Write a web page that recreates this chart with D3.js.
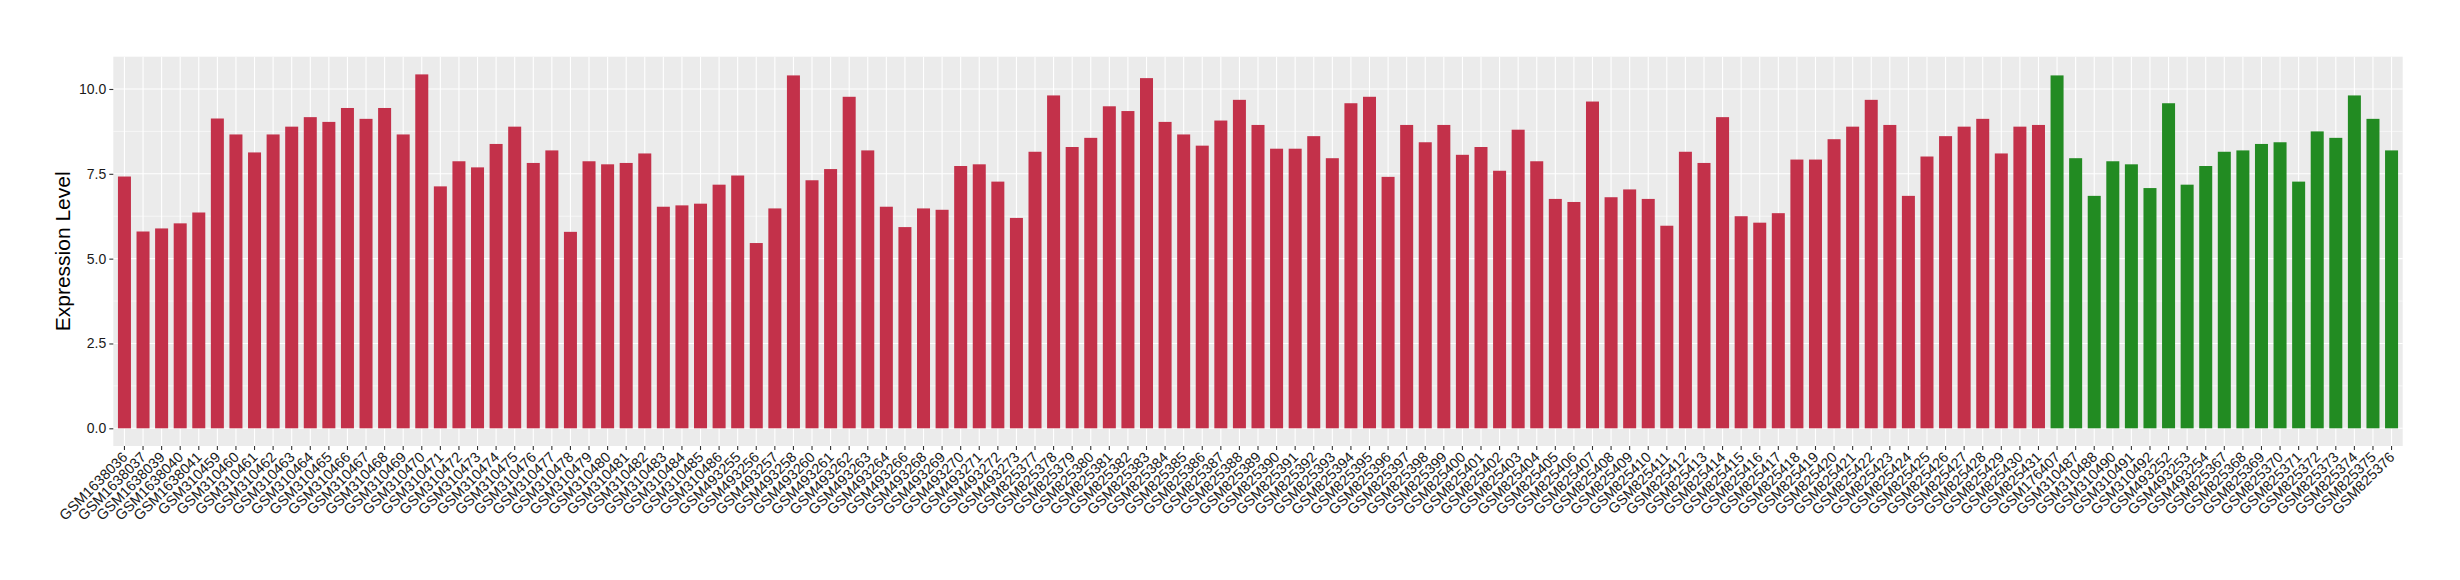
<!DOCTYPE html>
<html><head><meta charset="utf-8">
<script src="https://cdn.jsdelivr.net/npm/d3@7"></script>
<style>body{margin:0;background:#fff;} svg{display:block;}</style>
</head><body>
<svg id="chart" width="2460" height="580"></svg>
<script>
const samples = ["GSM1638036","GSM1638037","GSM1638039","GSM1638040","GSM1638041",
"GSM310459","GSM310460","GSM310461","GSM310462","GSM310463","GSM310464","GSM310465","GSM310466","GSM310467","GSM310468","GSM310469","GSM310470","GSM310471","GSM310472","GSM310473","GSM310474","GSM310475","GSM310476","GSM310477","GSM310478","GSM310479","GSM310480","GSM310481","GSM310482","GSM310483","GSM310484","GSM310485","GSM310486",
"GSM493255","GSM493256","GSM493257","GSM493258","GSM493260","GSM493261","GSM493262","GSM493263","GSM493264","GSM493266","GSM493268","GSM493269","GSM493270","GSM493271","GSM493272","GSM493273",
"GSM825377","GSM825378","GSM825379","GSM825380","GSM825381","GSM825382","GSM825383","GSM825384","GSM825385","GSM825386","GSM825387","GSM825388","GSM825389","GSM825390","GSM825391","GSM825392","GSM825393","GSM825394","GSM825395","GSM825396","GSM825397","GSM825398","GSM825399","GSM825400","GSM825401","GSM825402","GSM825403","GSM825404","GSM825405","GSM825406","GSM825407","GSM825408","GSM825409","GSM825410","GSM825411","GSM825412","GSM825413","GSM825414","GSM825415","GSM825416","GSM825417","GSM825418","GSM825419","GSM825420","GSM825421","GSM825422","GSM825423","GSM825424","GSM825425","GSM825426","GSM825427","GSM825428","GSM825429","GSM825430","GSM825431",
"GSM176407","GSM310487","GSM310488","GSM310490","GSM310491","GSM310492","GSM493252","GSM493253","GSM493254","GSM825367","GSM825368","GSM825369","GSM825370","GSM825371","GSM825372","GSM825373","GSM825374","GSM825375","GSM825376"];

const expression = [7.42,5.80,5.89,6.04,6.36,
9.13,8.66,8.13,8.66,8.89,9.17,9.03,9.44,9.12,9.44,8.66,10.43,7.13,7.87,7.69,8.38,8.89,7.82,8.19,5.79,7.87,7.78,7.82,8.10,6.53,6.57,6.62,7.18,
7.45,5.46,6.48,10.40,7.31,7.64,9.77,8.19,6.53,5.93,6.48,6.44,7.73,7.78,7.27,6.20,
8.15,9.81,8.29,8.56,9.49,9.35,10.32,9.03,8.66,8.33,9.07,9.68,8.94,8.24,8.24,8.61,7.96,9.58,9.77,7.41,8.94,8.43,8.94,8.06,8.29,7.59,8.80,7.87,6.76,6.67,9.63,6.81,7.04,6.76,5.97,8.15,7.82,9.17,6.25,6.06,6.34,7.92,7.92,8.52,8.89,9.68,8.94,6.85,8.01,8.61,8.89,9.12,8.10,8.89,8.94,
10.40,7.96,6.85,7.87,7.78,7.08,9.58,7.18,7.73,8.15,8.19,8.38,8.43,7.27,8.75,8.56,9.81,9.12,8.19];

const groups = samples.map((s,i) => i < 104 ? "A" : "B");
const groupColors = {A: "#C3314A", B: "#228B22"};
const yTicks = [0, 2.5, 5, 7.5, 10];
const yMinor = [1.25, 3.75, 6.25, 8.75];
const yTitle = "Expression Level";

const svg = d3.select("#chart");
const L = 113.3, R = 2402.7, T = 56.7, B = 446;

const x = d3.scaleBand().domain(samples).range([L, R]).paddingInner(0.3).paddingOuter(0.25);
const ymax = d3.max(expression);
const y = d3.scaleLinear().domain([-0.05*ymax, ymax*1.05]).range([B, T]);

svg.append("rect").attr("x", L).attr("y", T).attr("width", R-L).attr("height", B-T).attr("fill", "#EBEBEB");

const grid = svg.append("g");
grid.selectAll(".minor").data(yMinor).join("line")
  .attr("x1", L).attr("x2", R).attr("y1", d=>y(d)).attr("y2", d=>y(d))
  .attr("stroke", "#fff").attr("stroke-width", 0.55);
grid.selectAll(".major").data(yTicks).join("line")
  .attr("x1", L).attr("x2", R).attr("y1", d=>y(d)).attr("y2", d=>y(d))
  .attr("stroke", "#fff").attr("stroke-width", 1.1);
grid.selectAll(".vx").data(samples).join("line")
  .attr("x1", d=>x(d)+x.bandwidth()/2).attr("x2", d=>x(d)+x.bandwidth()/2).attr("y1", T).attr("y2", B)
  .attr("stroke", "#fff").attr("stroke-width", 1.1);

svg.append("g").selectAll("rect").data(samples).join("rect")
  .attr("x", d=>x(d)).attr("width", x.bandwidth())
  .attr("y", (d,i)=>y(expression[i])).attr("height", (d,i)=>y(0)-y(expression[i]))
  .attr("fill", (d,i)=>groupColors[groups[i]]);

// y axis
const yAxis = d3.axisLeft(y).tickValues(yTicks).tickFormat(d3.format(".1f")).tickSize(4).tickPadding(3);
const ga = svg.append("g").attr("transform", `translate(${L},0)`).call(yAxis);
ga.select(".domain").remove();
ga.selectAll(".tick line").attr("stroke", "#333").attr("stroke-width", 1.1);
ga.selectAll(".tick text").attr("fill", "#1a1a1a").style("font-family", "Liberation Sans, Arial, sans-serif").style("font-size", "14px");

// x axis
const xAxis = d3.axisBottom(x).tickSize(4).tickPadding(2);
const gx = svg.append("g").attr("transform", `translate(0,${B})`).call(xAxis);
gx.select(".domain").remove();
gx.selectAll(".tick line").attr("stroke", "#333").attr("stroke-width", 1.1);
gx.selectAll(".tick text")
  .attr("fill", "#1a1a1a").style("font-family", "Liberation Sans, Arial, sans-serif").style("font-size", "14.5px")
  .attr("text-anchor", "end").attr("dy", null).attr("y", 0)
  .attr("transform", "translate(4,12) rotate(-45)");

svg.append("text").text(yTitle)
  .attr("transform", `translate(70,${(T+B)/2}) rotate(-90)`)
  .attr("text-anchor", "middle").attr("fill", "#000")
  .style("font-family", "Liberation Sans, Arial, sans-serif").style("font-size", "21px");
</script>
</body></html>
